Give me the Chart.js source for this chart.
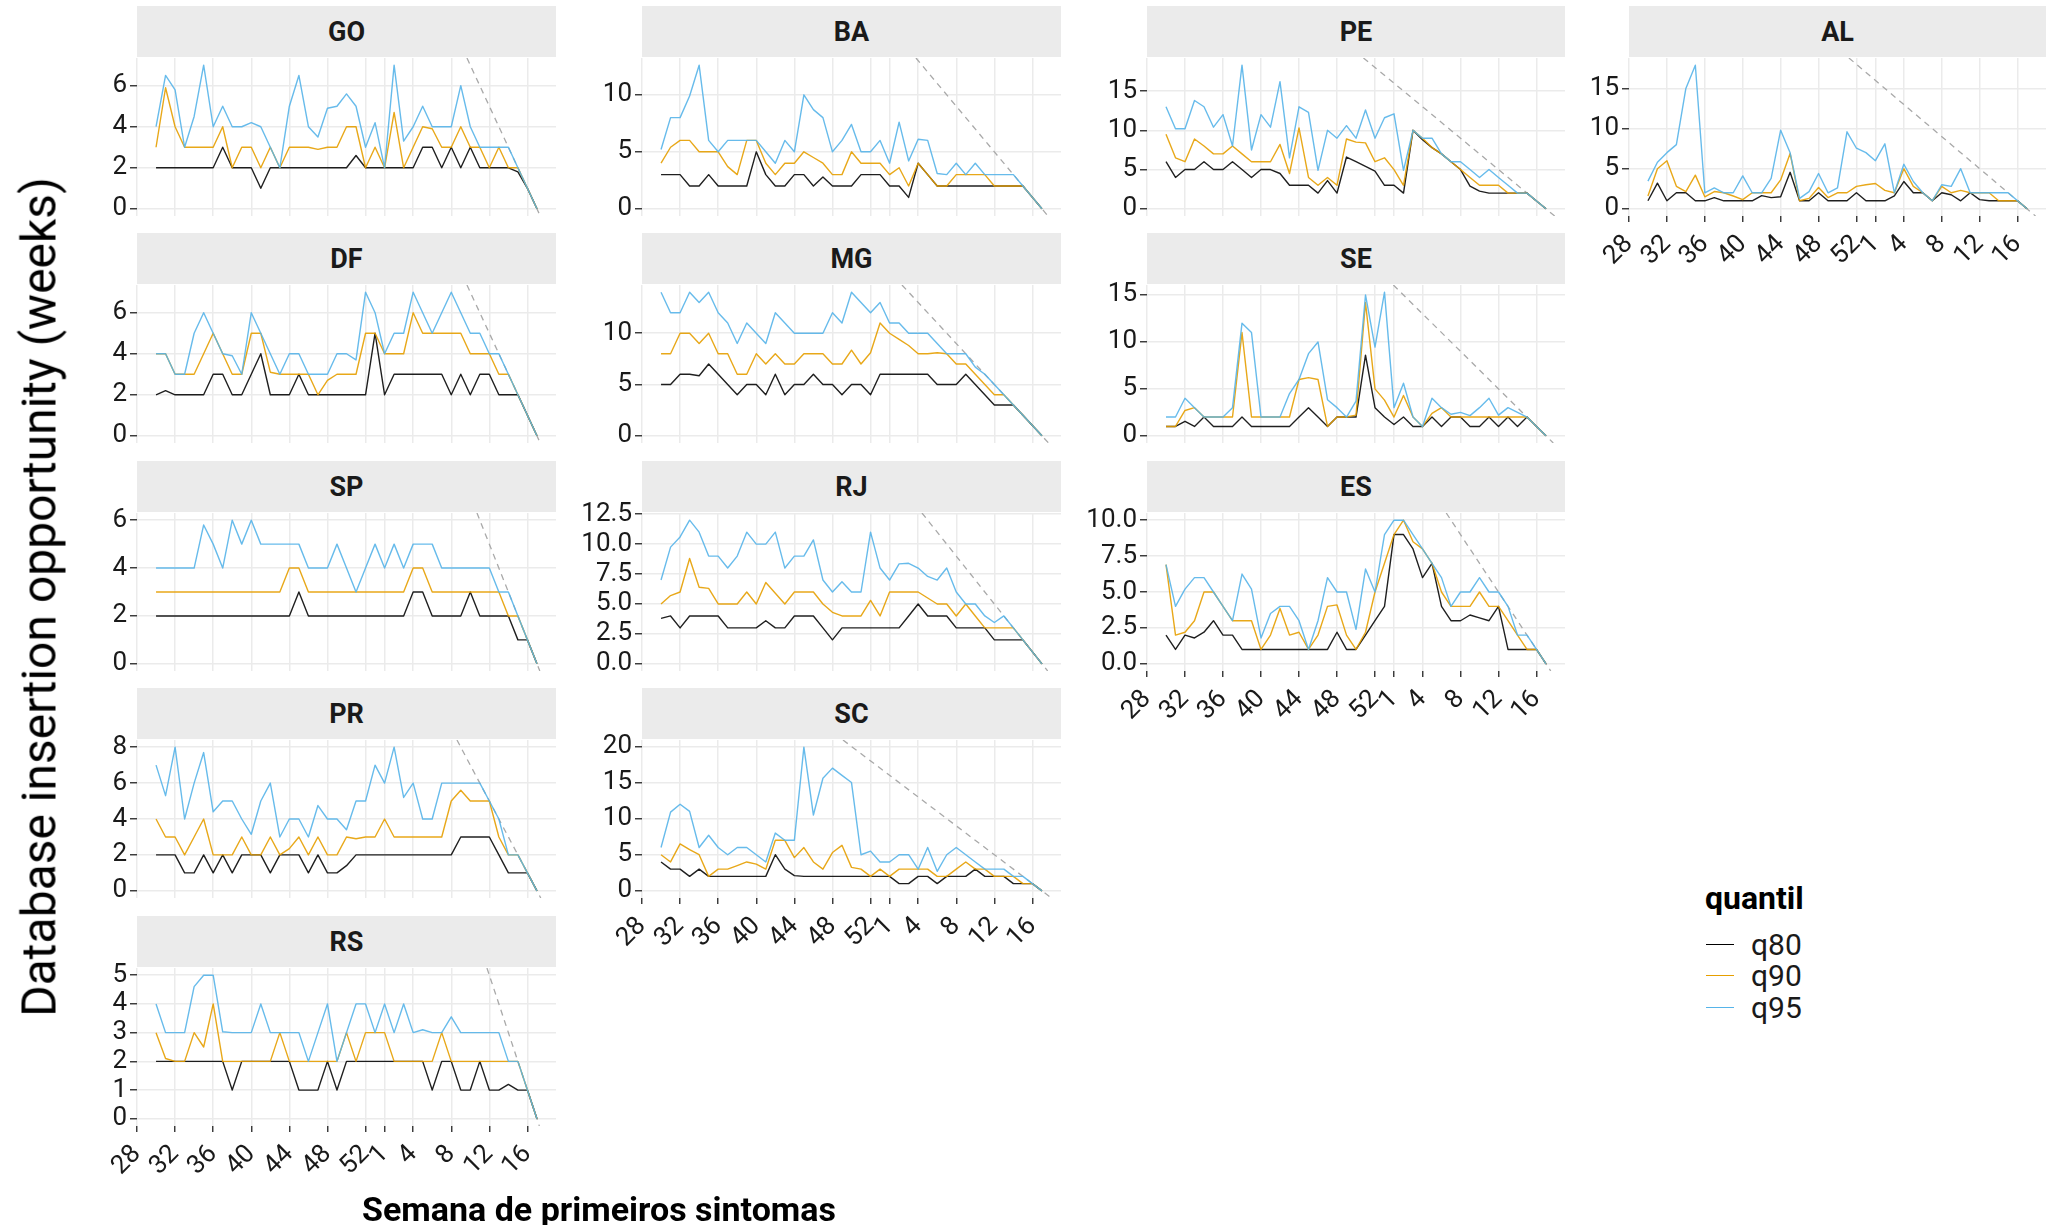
<!DOCTYPE html>
<html>
<head>
<meta charset="utf-8">
<script src="https://cdn.jsdelivr.net/npm/chart.js@4.4.1/dist/chart.umd.min.js"></script>
<style>
  html, body { margin: 0; padding: 0; background: #ffffff; }
  #fig { position: relative; width: 2049px; height: 1225px; overflow: hidden;
         font-family: Roboto, "Noto Sans", "DejaVu Sans", sans-serif; color: #000; }
  .strip { position: absolute; background: #EBEBEB; display: flex; align-items: center;
           justify-content: center; font-weight: 700; font-size: 27px; color: #1a1a1a; }
  canvas { position: absolute; }
  .ytitle { position: absolute; font-size: 48px; white-space: nowrap; color: #000;
            transform: translate(-50%, -50%) rotate(-90deg); }
  .xtitle { position: absolute; font-size: 34px; font-weight: 700; white-space: nowrap;
            transform: translate(-50%, -50%); color: #000; }
  .lg-title { position: absolute; font-size: 32px; font-weight: 700; line-height: 32px; }
  .lg-key { position: absolute; width: 28px; height: 0; }
  .lg-text { position: absolute; font-size: 30px; line-height: 30px; color: #1a1a1a; }
</style>
</head>
<body>
<div id="fig"></div>
<script>
// Epidemiological weeks of first symptoms (2020 has 53 epi weeks, then 2021)
const semanas = [30,31,32,33,34,35,36,37,38,39,40,41,42,43,44,45,46,47,48,49,50,51,52,53,
                 1,2,3,4,5,6,7,8,9,10,11,12,13,14,15,16,17];
const semanasEixo = [28,32,36,40,44,48,52,1,4,8,12,16];
const quantis = ['q80', 'q90', 'q95'];

// Delay quantiles (weeks) per state
const GO_q80 = [2,2,2,2,2,2,2,3,2,2,2,1,2,2,2,2,2,2,2,2,2,2.6,2,2,2,2,2,2,3,3,2,3,2,3,2,2,2,2,1.8,1,0];
const GO_q90 = [3,5.9,4,3,3,3,3,4,2,3,3,2,3,2,3,3,3,2.9,3,3,4,4,2,3,2,4.7,2,3,4,3.9,3,3,4,3,3,2,3,2,2,1,0];
const GO_q95 = [4,6.5,5.8,3,4.5,7,4,5,4,4,4.2,4,3,2,5,6.5,4,3.5,4.9,5,5.6,5,3,4.2,2,7,3.3,4,5,4,4,4,6,4,3,3,3,3,2,1,0];

const DF_q80 = [2,2.2,2,2,2,2,3,3,2,2,3,4,2,2,2,3,2,2,2,2,2,2,2,5,2,3,3,3,3,3,3,2,3,2,3,3,2,2,2,1,0];
const DF_q90 = [4,4,3,3,3,4,5,4,3,3,5,5,3.1,3,3,3,3,2,2.7,3,3,3,5,5,4,4,4,6,5,5,5,5,5,4,4,4,3,3,2,1,0];
const DF_q95 = [4,4,3,3,5,6,5,4,3.9,3,6,5,4,3,4,4,3,3,3,4,4,3.7,7,6,4,5,5,7,6,5,6,7,6,5,5,4,4,3,2,1,0];

const SP_q80 = [2,2,2,2,2,2,2,2,2,2,2,2,2,2,2,3,2,2,2,2,2,2,2,2,2,2,2,3,3,2,2,2,2,3,2,2,2,2,1,1,0];
const SP_q90 = [3,3,3,3,3,3,3,3,3,3,3,3,3,3,4,4,3,3,3,3,3,3,3,3,3,3,3,4,4,3,3,3,3,3,3,3,3,2,2,1,0];
const SP_q95 = [4,4,4,4,4,5.8,5,4,6,5,6,5,5,5,5,5,4,4,4,5,4,3,4,5,4,5,4,5,5,5,4,4,4,4,4,4,3,3,2,1,0];

const PR_q80 = [2,2,2,1,1,2,1,2,1,2,2,2,1,2,2,2,1,2,1,1,1.4,2,2,2,2,2,2,2,2,2,2,2,3,3,3,3,2,1,1,1,0];
const PR_q90 = [4,3,3,2,3,4,2,2,2,3,2,2,3,2,2.35,3,2,3,2,2,3,2.9,3,3,4,3,3,3,3,3,3,5,5.6,5,5,5,3,2,2,1,0];
const PR_q95 = [7,5.3,8,4,6,7.7,4.4,5,5,4,3.15,5,6,3,4,4,3,4.75,4,4,3.4,5,5,7,6,8,5.2,6,4,4,6,6,6,6,6,5,4,2,2,1,0];

const RS_q80 = [2,2,2,2,2,2,2,2,1,2,2,2,2,2,2,1,1,1,2,1,2,2,2,2,2,2,2,2,2,1,2,2,1,1,2,1,1,1.2,1,1,0];
const RS_q90 = [3,2.1,2,2,3,2.5,4,2,2,2,2,2,2,3,2,2,2,2,2,2,3,2,3,3,3,2,2,2,2,2,3,2,2,2,2,2,2,2,2,1,0];
const RS_q95 = [4,3,3,3,4.6,5,5,3.03,3,3,3,4,3,3,3,3,2,3,4,2,3,4,4,3,4,3,4,3,3.1,3,3,3.55,3,3,3,3,3,2,2,1,0];

const BA_q80 = [3,3,3,2,2,3,2,2,2,2,5,3,2,2,3,3,2,2.8,2,2,2,3,3,3,2,2,1,4,3,2,2,2,2,2,2,2,2,2,2,1,0];
const BA_q90 = [4,5.4,6,6,5,5,5,3.7,3,6,6,4,3,4,4,5,4.5,4,3,3,5,4,4,4,3,3.6,2,4,3,2,2,3,3,3,3,2,2,2,2,1,0];
const BA_q95 = [5.2,8,8,9.9,12.6,6,5,6,6,6,6,5,4,6,5,10,8.7,8,5,6,7.4,5,5,6,4,7.6,4.2,6.1,6,3.1,3,4,3,4,3,3,3,3,2,1,0];

const MG_q80 = [5,5,6,6,5.85,7,6,5,4,5,5,4,6,4,5,5,6,5,5,4,5,5,4,6,6,6,6,6,6,5,5,5,6,5,4,3,3,3,2,1,0];
const MG_q90 = [8,8,10,10,9,10,8,8,6,6,8,7,8,7,7,8,8,8,7,7,8.35,7,8.1,11,10,9.4,8.8,8,8,8.1,8,7,7,6,5,4,4,3,2,1,0];
const MG_q95 = [14,12,12,14,13,14,12,11,9,11,10,9,12,11,10,10,10,10,12,11,14,13,12,13,11,11,10,10,10,9,8,8,8,6.7,6,5,4,3,2,1,0];

const RJ_q80 = [3.8,4,3,4,4,4,4,3,3,3,3,3.6,3,3,4,4,4,3,2,3,3,3,3,3,3,3,4,5,4,4,4,3,3,3,3,2,2,2,2,1,0];
const RJ_q90 = [5,5.7,6,8.8,6.4,6.3,5,5,5,6,5,6.8,5.9,5,6,6,6,5,4.3,4,4,4,5.3,4,6,6,6,6,5.5,5,5,4,5,4,3,3,3,3,2,1,0];
const RJ_q95 = [7,9.75,10.6,12,11,9,9,8,9,11,10,10,11,8,9,9,10.35,7,6,6.85,6,6,11,8,7,8.35,8.4,8,7.3,7,8,6,5,5,4,3.45,4,3,2,1,0];

const SC_q80 = [4,3,3,2,3,2,2,2,2,2,2,2,5,3,2.1,2,2,2,2,2,2,2,2,2,2,1,1,2,2,1,2,2,2,3,2,2,2,1,1,1,0];
const SC_q90 = [5,4,6.5,5.7,5,2,3,3,3.5,4,3.7,3,7,7,4.6,6,4,3,5.3,6.3,3.25,3,2,3,2,3,3,3,3,2,2,3,4,3,3,2,2,2,1,1,0];
const SC_q95 = [6,10.9,12,11,6,7.7,6,5,6,6,5,4,8,7,7,19.9,10.5,15.6,17,16,15,5,5.5,4,4,5,5,3,6,2.7,5,6,5,4,3,3,3,2,2,1,0];

const PE_q80 = [6,4,5,5,6,5,5,6,5,4,5,5,4.5,3,3,3,2,3.6,2,6.6,6,5.4,4.8,3,3,2,10,8.8,7.8,7,6,5,2.9,2.25,2,2,2,2,2,1,0];
const PE_q90 = [9.5,6.5,6,8.9,8,7,7,8,7,6,6,6,8.2,4.5,10.3,4,3,4,3,8.9,8.5,8.4,6,6.5,5,3,10,9,7.8,7,6,5,4,3,3,3,2,2,2,1,0];
const PE_q95 = [13,10.2,10.2,13.8,13,10.4,12,8,18.3,7.5,12,10.4,16.2,6.5,13,12.3,4.9,10,9,10.6,9,12.6,9,11.6,12.1,4.9,10,9,9,7,6,6,5,4,5,4,3,2,2,1,0];

const SE_q80 = [1,1,1.55,1,2,1,1,1,2,1,1,1,1,1,2,3,2,1,2,2,2,8.6,3,2,1.2,2,1,1,2,1,2,2,1,1,2,1,2,1,2,1,0];
const SE_q90 = [1,1,2.7,3,2,2,2,2,11,2,2,2,2,2,6,6.2,6,1,2,2,2.2,14.2,5,3.8,2,4.3,2,1,2.4,3,2,2,2,2,2,2,2,2,2,1,0];
const SE_q95 = [2,2,4,3,2,2,2,3,12,11,2,2,2,4.5,6,8.75,10,3.85,3,2,3.7,15,9.45,15.3,3,5.6,2,1,4,3,2.3,2.5,2.15,3,4,2.2,3,2.5,2,1,0];

const ES_q80 = [2,1,2,1.8,2.2,3,2,2,1,1,1,1,1,1,1,1,1,1,2.2,1,1,2,3,4,9,9,8,6,7,4,3,3,3.4,3.2,3,4,1,1,1,1,0];
const ES_q90 = [6.9,2,2.2,3,5,5,4,3,3,3,1,2,3.85,2,2.2,1,2,4,4.1,2,1,2.2,5,7,9,10,8.5,8,7,5,4,4,4,5,4,4,3,2,1,1,0];
const ES_q95 = [6.9,4,5.2,6,6,5,4,3,6.25,5.2,1.8,3.5,4,4,3,1,3,6,5,5,2.4,6.6,5,9,10,10,9,8,7,6,4,5,5,6,5,5,4,2,2,1,0];

const AL_q80 = [1,3.2,1,2,2,1,1,1.4,1,1,1,1,1.65,1.4,1.5,4.55,1,1,2,1,1,1,2,1,1,1,1.6,3.4,2,2,1,2,1.75,1,2,1.15,1,1,1,1,0];
const AL_q90 = [1.6,5,6,2.8,2.15,4.2,1.5,2.15,2,1.6,1.15,2,2,2,3.6,6.9,1,1.3,2.65,1.4,2,2,2.8,3,3.15,2.3,2,5,2.8,2,1,2.8,2,2.3,2,2,2,1,1,1,0];
const AL_q95 = [3.45,5.8,7,8,15,17.9,2,2.6,2,2,4.1,2,2,3.8,9.8,7,1.3,2.15,4.4,2,2.6,9.6,7.55,7,6,8.1,2,5.55,3.4,2,1,3,2.8,5,2,2,2,2,2,1,0];

// Facets in column-major order, with the y-axis break step of each one
const estados = ['GO','DF','SP','PR','RS','BA','MG','RJ','SC','PE','SE','ES','AL'];
const passoY  = [2, 2, 2, 2, 1, 5, 5, 2.5, 5, 5, 5, 2.5, 5];

const seriesPorEstado = {
  GO: [GO_q80, GO_q90, GO_q95], DF: [DF_q80, DF_q90, DF_q95], SP: [SP_q80, SP_q90, SP_q95],
  PR: [PR_q80, PR_q90, PR_q95], RS: [RS_q80, RS_q90, RS_q95], BA: [BA_q80, BA_q90, BA_q95],
  MG: [MG_q80, MG_q90, MG_q95], RJ: [RJ_q80, RJ_q90, RJ_q95], SC: [SC_q80, SC_q90, SC_q95],
  PE: [PE_q80, PE_q90, PE_q95], SE: [SE_q80, SE_q90, SE_q95], ES: [ES_q80, ES_q90, ES_q95],
  AL: [AL_q80, AL_q90, AL_q95]
};

// ---- appearance and facet grid ----
const coresQuantil = ['rgba(0,0,0,0.88)', 'rgba(230,159,0,0.9)', 'rgba(86,180,233,0.9)'];
const corLegenda   = ['#000000', '#E69F00', '#56B4E9'];
const facetas = { GO:[0,0], DF:[0,1], SP:[0,2], PR:[0,3], RS:[0,4], BA:[1,0], MG:[1,1], RJ:[1,2], SC:[1,3],
                  PE:[2,0], SE:[2,1], ES:[2,2], AL:[3,0] };
const G = { colX: [137, 642, 1147, 1629], largura: [419, 419, 418, 417],
            linhaY: [6, 233, 461, 688, 916], faixaH: 51, plotOff: 52, plotH: 158,
            eixoW: 75, padT: 20, padB: 16, padR: 4, eixoXH: 74 };
const FONTE = 'Roboto, "Noto Sans", "DejaVu Sans", sans-serif';
const TAM_TICK = 26;
Chart.defaults.font.family = FONTE;

// week number -> position on a continuous axis (week 1/2021 follows week 53/2020)
const semanaIdx = s => (s >= 28 ? s - 28 : s + 25);

const fig = document.getElementById('fig');

estados.forEach((uf, k) => {
  const [col, lin] = facetas[uf];
  const ultimo = !estados.some(o => facetas[o][0] === col && facetas[o][1] > lin);
  const valores = seriesPorEstado[uf];

  // strip with state name
  const faixa = document.createElement('div');
  faixa.className = 'strip';
  faixa.textContent = uf;
  Object.assign(faixa.style, { left: G.colX[col] + 'px', top: G.linhaY[lin] + 'px',
                               width: G.largura[col] + 'px', height: G.faixaH + 'px' });
  fig.appendChild(faixa);

  // scale ranges with 5% padding on each side
  const xs = semanas.map(semanaIdx);
  const x0 = Math.min(...xs), x1 = Math.max(...xs);
  const xMin = x0 - 0.05 * (x1 - x0), xMax = x1 + 0.05 * (x1 - x0);
  const vMax = Math.max(...valores.flat()), vMin = Math.min(0, ...valores.flat());
  const yMin = vMin - 0.05 * (vMax - vMin), yMax = vMax + 0.05 * (vMax - vMin);
  const passo = passoY[k];
  const ticksY = [];
  for (let v = 0; v <= yMax + 1e-9; v += passo) ticksY.push(+v.toFixed(3));
  const decimais = Number.isInteger(passo) ? 0 : 1;

  // last week with data: delays cannot exceed the weeks left until then
  const fim = x1;

  const cv = document.createElement('canvas');
  const w = G.eixoW + G.largura[col] + G.padR;
  const h = G.padT + G.plotH + (ultimo ? G.eixoXH : G.padB);
  cv.width = w; cv.height = h;
  Object.assign(cv.style, { left: (G.colX[col] - G.eixoW) + 'px',
                            top: (G.linhaY[lin] + G.plotOff - G.padT) + 'px',
                            width: w + 'px', height: h + 'px' });
  fig.appendChild(cv);

  const datasets = quantis.map((q, qi) => ({
    label: q,
    data: semanas.map((s, i) => ({ x: semanaIdx(s), y: valores[qi][i] })),
    borderColor: coresQuantil[qi],
    borderWidth: 1.4,
    pointRadius: 0,
    tension: 0,
    borderJoinStyle: 'round',
    fill: false,
    order: 3 - qi
  }));
  datasets.push({
    label: 'limite',
    data: [{ x: fim - yMax, y: yMax }, { x: fim - yMin, y: yMin }],
    borderColor: '#A9A9A9',
    borderWidth: 1.3,
    borderDash: [6, 5],
    pointRadius: 0,
    fill: false,
    order: 5
  });

  new Chart(cv, {
    type: 'line',
    data: { datasets },
    options: {
      responsive: false,
      animation: false,
      devicePixelRatio: 1,
      events: [],
      layout: { padding: { top: G.padT, right: G.padR, bottom: ultimo ? 0 : G.padB, left: 0 } },
      plugins: { legend: { display: false }, tooltip: { enabled: false } },
      scales: {
        x: {
          type: 'linear', min: xMin, max: xMax,
          afterBuildTicks: s => { s.ticks = semanasEixo.map(sw => ({ value: semanaIdx(sw) })); },
          afterFit: s => { s.height = ultimo ? G.eixoXH : 0; s.paddingLeft = 0; s.paddingRight = 0; },
          border: { display: false },
          grid: { color: '#EBEBEB', lineWidth: 1.5, drawTicks: ultimo, tickLength: 6,
                  tickColor: '#333333', tickWidth: 1.4 },
          ticks: {
            display: ultimo, autoSkip: false, minRotation: 45, maxRotation: 45, padding: 7,
            color: '#1a1a1a', font: { size: TAM_TICK },
            callback: v => { const sw = semanasEixo.find(e => semanaIdx(e) === v); return sw === undefined ? '' : String(sw); }
          }
        },
        y: {
          type: 'linear', min: yMin, max: yMax,
          afterBuildTicks: s => { s.ticks = ticksY.map(v => ({ value: v })); },
          afterFit: s => { s.width = G.eixoW; s.paddingTop = 0; s.paddingBottom = 0; },
          border: { display: false },
          grid: { color: '#EBEBEB', lineWidth: 1.5, drawTicks: true, tickLength: 7,
                  tickColor: '#333333', tickWidth: 1.4 },
          ticks: { autoSkip: false, padding: 3, color: '#1a1a1a', font: { size: TAM_TICK },
                   callback: v => v.toFixed(decimais) }
        }
      }
    }
  });
});

// axis titles
const yt = document.createElement('div');
yt.className = 'ytitle';
yt.textContent = 'Database insertion opportunity (weeks)';
Object.assign(yt.style, { left: '39px', top: '597px' });
fig.appendChild(yt);

const xt = document.createElement('div');
xt.className = 'xtitle';
xt.textContent = 'Semana de primeiros sintomas';
Object.assign(xt.style, { left: '599px', top: '1209px' });
fig.appendChild(xt);

// legend
const lgT = document.createElement('div');
lgT.className = 'lg-title';
lgT.textContent = 'quantil';
Object.assign(lgT.style, { left: '1705px', top: '882px' });
fig.appendChild(lgT);
const lgY = [945, 976, 1008];
quantis.forEach((q, qi) => {
  const key = document.createElement('div');
  key.className = 'lg-key';
  Object.assign(key.style, { left: '1706px', top: (lgY[qi] - 1) + 'px', borderTop: '1.5px solid ' + corLegenda[qi] });
  fig.appendChild(key);
  const t = document.createElement('div');
  t.className = 'lg-text';
  t.textContent = q;
  Object.assign(t.style, { left: '1751px', top: (lgY[qi] - 15) + 'px' });
  fig.appendChild(t);
});
</script>
</body>
</html>
